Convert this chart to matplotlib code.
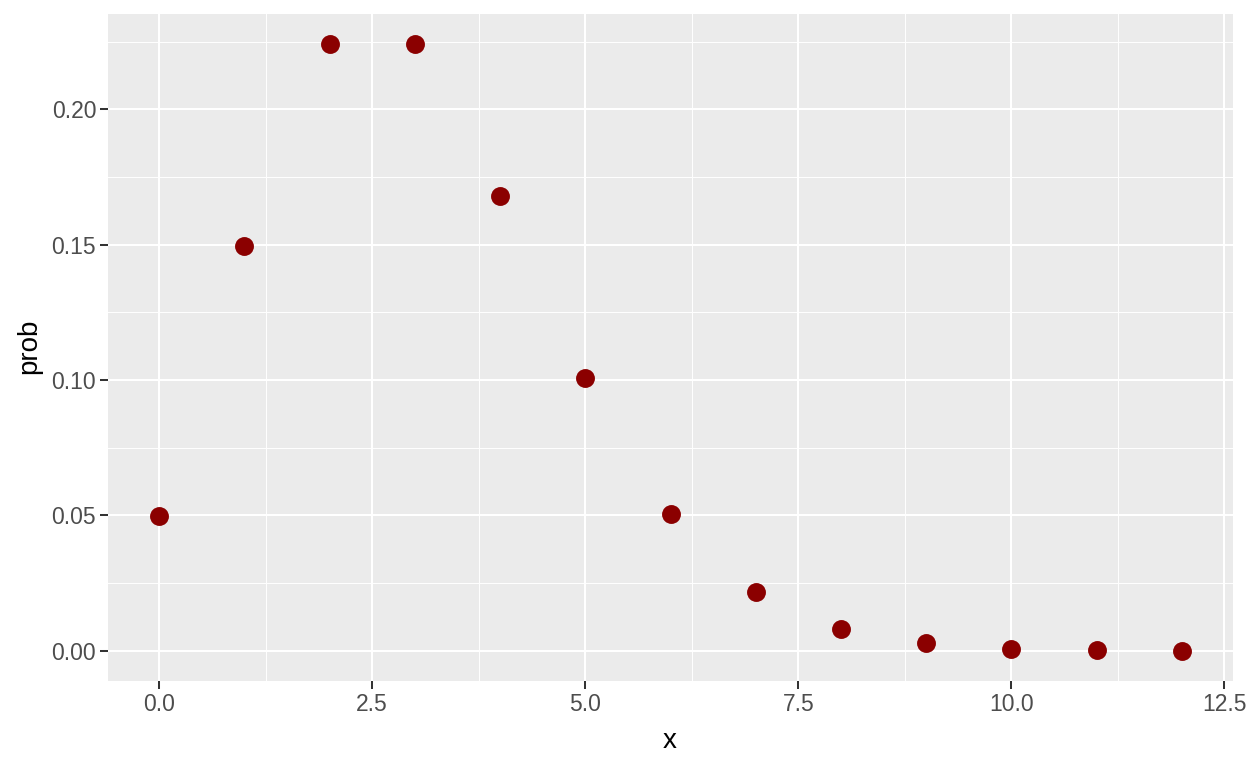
import matplotlib
matplotlib.use("Agg")
import matplotlib.pyplot as plt
from matplotlib.ticker import MultipleLocator

x = [0, 1, 2, 3, 4, 5, 6, 7, 8, 9, 10, 11, 12]
prob = [0.0498, 0.1494, 0.2240, 0.2240, 0.1680, 0.1008, 0.0504, 0.0216,
        0.0081, 0.0027, 0.0008, 0.0002, 0.00006]
xticks = [0.0, 2.5, 5.0, 7.5, 10.0, 12.5]
yticks = [0.00, 0.05, 0.10, 0.15, 0.20]

plt.rcParams['font.family'] = ['Liberation Sans', 'DejaVu Sans']
fig = plt.figure(figsize=(12.48, 7.68), dpi=100)
ax = fig.add_axes([108/1248, (768-681)/768, (1233-108)/1248, (681-14)/768])
ax.set_facecolor('#EBEBEB')
for s in ax.spines.values():
    s.set_visible(False)

ax.set_xlim(-0.6, 12.6)
ax.set_ylim(-0.0112, 0.2352)
ax.set_xticks(xticks)
ax.set_xticklabels([f"{v:.1f}" for v in xticks])
ax.set_yticks(yticks)
ax.set_yticklabels([f"{v:.2f}" for v in yticks])
ax.xaxis.set_minor_locator(MultipleLocator(1.25))
ax.yaxis.set_minor_locator(MultipleLocator(0.025))
ax.grid(which='major', color='white', linewidth=1.45)
ax.grid(which='minor', color='white', linewidth=0.7)
ax.set_axisbelow(True)
ax.tick_params(which='major', length=5.5, color='#333333', labelcolor='#4D4D4D',
               labelsize=16.5, width=1.45, pad=3)
ax.tick_params(which='minor', length=0)

ax.scatter(x, prob, s=185, color='#8B0000', zorder=3, linewidths=0)

fig.text(670/1248, 1 - 741/768, 'x', fontsize=20, color='black',
         ha='center', va='center')
fig.text(29/1248, 1 - 346/768, 'prob', fontsize=20, color='black',
         ha='center', va='center', rotation=90)

fig.savefig('out.png', dpi=100)
